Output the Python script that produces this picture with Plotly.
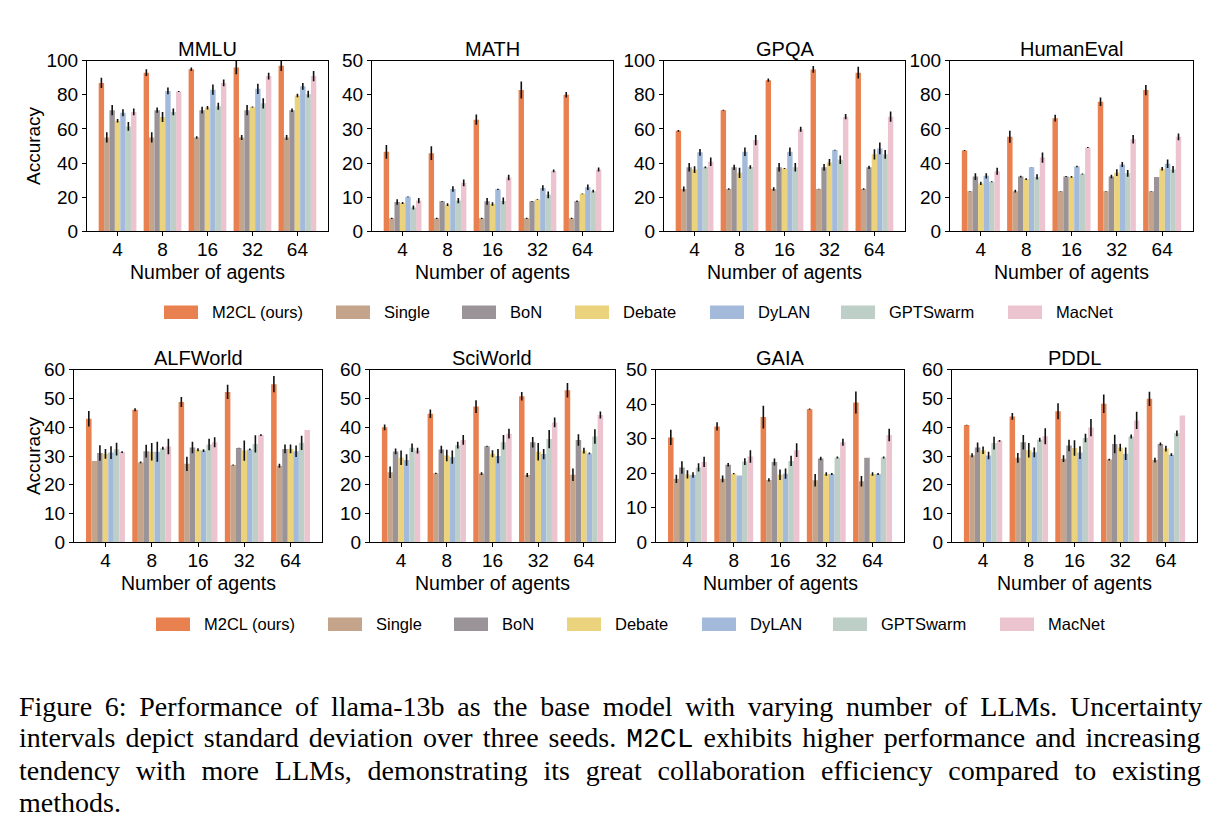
import plotly.graph_objects as go

AGENTS = ["4", "8", "16", "32", "64"]
METHODS = ["M2CL (ours)", "Single", "BoN", "Debate", "DyLAN", "GPTSwarm", "MacNet"]
COLORS = ["#E9804F", "#C4A48A", "#9A9499", "#EBD27C", "#A3BADB", "#BDCFC6", "#EBC4CF"]
BENCHMARKS = ["MMLU", "MATH", "GPQA", "HumanEval", "ALFWorld", "SciWorld", "GAIA", "PDDL"]
Y_MAX = [100, 50, 100, 100, 60, 60, 50, 60]
Y_DTICK = [20, 10, 20, 20, 10, 10, 10, 10]

# rows = methods (in METHODS order), columns = number of agents
MMLU_MEAN = [[87, 93, 95, 96, 97], [55, 55, 55, 55, 55], [71, 71, 71, 71, 71],
             [64.8, 67, 72.4, 72.8, 79.6], [69.5, 82.3, 83, 83.5, 85],
             [61.5, 70, 73.3, 75, 80.4], [70, 82, 87, 91, 91]]
MMLU_STD = [[3, 2, 1, 4, 3], [3, 3, 0.7, 1.5, 1.5], [3, 1.5, 2, 3, 1],
            [1, 3, 1, 0.3, 1], [2, 2, 3, 3, 2], [2.5, 2, 2, 3, 2], [2, 0.3, 2, 2, 3]]

MATH_MEAN = [[23.3, 22.9, 32.7, 41.4, 40], [3.8, 3.8, 3.8, 3.8, 3.8],
             [8.6, 8.8, 8.8, 8.8, 8.8], [8.3, 7.8, 8, 9.3, 11],
             [10.1, 12.4, 12.3, 12.7, 12.9], [7, 9, 8.9, 10.7, 11.8],
             [9, 14.2, 15.8, 17.7, 18.1]]
MATH_STD = [[2, 2, 1.5, 2.5, 0.8], [0.2, 0.2, 0.2, 0.2, 0.2], [0.8, 0.1, 1, 0.1, 0.2],
            [0.3, 0.4, 0.5, 0.1, 0.1], [0.1, 0.8, 0.2, 0.8, 0.8],
            [0.6, 0.8, 1, 1, 0.4], [0.8, 1, 0.8, 0.4, 0.6]]

GPQA_MEAN = [[58.9, 70.9, 88.6, 94.9, 93], [24.8, 24.8, 24.8, 24.8, 24.8],
             [37.5, 37.5, 37.5, 37.5, 37.5], [36.2, 34.3, 36.8, 40.4, 45.1],
             [46.3, 46.7, 46.7, 47.6, 48.6], [37.5, 37.7, 37.5, 41.9, 45.1],
             [40.8, 53.5, 59.8, 67.2, 67.2]]
GPQA_STD = [[0.5, 0.3, 1, 2, 3.5], [1.5, 0.5, 1, 0.2, 0.5], [2.5, 1.5, 2.5, 2, 1],
            [2, 3, 0.3, 2, 3], [2, 2.5, 2.5, 0.2, 3.5], [0.5, 1, 2.5, 2.5, 2.5],
            [2.5, 3, 1.5, 1.5, 3]]

HUMANEVAL_MEAN = [[47.4, 55.4, 66.3, 75.9, 82.8], [23.5, 23.5, 23.5, 23.5, 23.5],
                  [32.1, 32.1, 32.1, 32.1, 31.9], [28.1, 30.6, 31.9, 34.4, 36.7],
                  [32.5, 37.5, 38, 39.2, 39.6], [29, 31.9, 33.6, 34, 36.3],
                  [35.2, 43.2, 49.1, 53.9, 55.4]]
HUMANEVAL_STD = [[0.3, 3.5, 2, 2.5, 3], [0.1, 0.8, 0.1, 0.1, 0.2], [2, 0.5, 0.3, 1, 0],
                 [1, 0.5, 0.5, 2, 1], [1.5, 0.1, 0.5, 1.5, 2.5], [0.3, 1.5, 0.3, 2, 2],
                 [2, 3, 0.3, 2.5, 2]]

ALFWORLD_MEAN = [[43, 46.1, 48.8, 52.3, 55], [28.3, 27.8, 27.3, 26.9, 26.6],
                 [31.1, 31.7, 33, 32.8, 32.5], [30.8, 31.5, 32.2, 31.9, 32.5],
                 [31.2, 31.5, 31.9, 32.3, 31.7], [32.4, 32.7, 34, 34.2, 34.6],
                 [31.4, 33.3, 34.8, 37.3, 39.1]]
ALFWORLD_STD = [[2.7, 0.5, 1.7, 2.5, 2.8], [0, 0.3, 2.5, 0.2, 0.7], [2.7, 2.2, 2, 0.1, 1.5],
                [1.7, 3, 0.5, 3.5, 1.5], [2.2, 3.5, 0.5, 0.3, 2], [2.2, 0.5, 2, 3, 2.5],
                [0.3, 2.7, 1.7, 0.3, 0]]

SCIWORLD_MEAN = [[40, 44.7, 47.2, 50.8, 52.9], [24.4, 24, 23.9, 23.4, 23.5],
                 [31.6, 32.3, 33.4, 34.8, 35.6], [29.4, 30.2, 30.8, 31.5, 31.9],
                 [28.6, 29.6, 30, 30.7, 30.9], [32.9, 33.8, 34.8, 35.9, 36.8],
                 [31.9, 35.6, 37.8, 41.7, 44.3]]
SCIWORLD_STD = [[1, 1.5, 2.2, 1.5, 2.5], [2, 0.2, 0.5, 0.7, 2.2], [1, 1.3, 0.2, 1.8, 2],
                [2.5, 2, 1.2, 3, 1], [2, 2.3, 2.5, 1.8, 0.3], [1.5, 1.2, 2.5, 3.2, 2.5],
                [1, 1.7, 1.7, 1.7, 1.2]]

GAIA_MEAN = [[30.4, 33.6, 36.3, 38.6, 40.5], [18.4, 18.4, 18.1, 18, 17.7],
             [21.7, 22.5, 23.3, 24.3, 24.5], [19.7, 19.9, 19.6, 19.8, 19.8],
             [19.5, 19.4, 19.9, 19.8, 19.8], [21.7, 23.4, 23.6, 24.6, 24.6],
             [23.3, 24.9, 26.7, 29, 31.1]]
GAIA_STD = [[2.2, 1.2, 3.3, 0.2, 3.2], [1.2, 1, 0.5, 1.8, 1.5], [1.8, 0.5, 1, 0.5, 0],
            [1.2, 0.2, 1.5, 0.5, 0.5], [0.8, 0, 1.5, 0.3, 0.3], [1.2, 1, 1.5, 0.3, 0.3],
            [1.5, 1.8, 2, 1, 1.8]]

PDDL_MEAN = [[40.8, 43.8, 45.6, 48.2, 49.9], [30.3, 29.4, 29.1, 28.8, 28.6],
             [33, 34.8, 33.7, 34.2, 34.2], [32, 32, 32.8, 33, 32.6],
             [30.2, 31.3, 31.2, 30.8, 30.5], [34.5, 35.7, 36.3, 36.8, 37.9],
             [35.3, 36.9, 39.9, 42.4, 44.1]]
PDDL_STD = [[0.1, 1.2, 2.8, 3.2, 2.5], [0.7, 1.7, 1.2, 0.3, 0.8], [1.7, 2.5, 2, 3.2, 0.5],
            [1.3, 2.5, 2.7, 1.3, 1], [1.3, 1.7, 2.2, 2.2, 0.5], [2.2, 0.7, 1.5, 0.7, 1],
            [0.3, 2.8, 3, 3, 0]]

MEANS = [MMLU_MEAN, MATH_MEAN, GPQA_MEAN, HUMANEVAL_MEAN,
         ALFWORLD_MEAN, SCIWORLD_MEAN, GAIA_MEAN, PDDL_MEAN]
STDS = [MMLU_STD, MATH_STD, GPQA_STD, HUMANEVAL_STD,
        ALFWORLD_STD, SCIWORLD_STD, GAIA_STD, PDDL_STD]

CAPTION = [
    "Figure 6: Performance of llama-13b as the base model with varying number of LLMs. Uncertainty",
    "intervals depict standard deviation over three seeds. <span style='font-family:Liberation Mono'>M2CL</span> exhibits higher performance and increasing",
    "tendency with more LLMs, demonstrating its great collaboration efficiency compared to existing",
    "methods.",
]
CAPTION_WORD_SPACING = [5.7, 3, 8.8, 0]

W, H = 1220, 840
# pixel boxes of the plot areas (left, right, top, bottom)
BOXES = [(87, 328, 52, 227), (372, 613, 52, 227), (664, 905, 52, 227), (950, 1193, 52, 227),
         (74, 322, 369, 546), (370, 615, 369, 546), (656, 904, 369, 546), (952, 1197, 369, 546)]

FONT = "Liberation Sans"
fig = go.Figure()
annotations = []
shapes = []

for i, (name, means, stds) in enumerate(zip(BENCHMARKS, MEANS, STDS)):
    k = i + 1
    xa = "x" if k == 1 else f"x{k}"
    ya = "y" if k == 1 else f"y{k}"
    for m, method in enumerate(METHODS):
        fig.add_trace(go.Bar(
            x=AGENTS, y=means[m], name=method, marker_color=COLORS[m],
            marker_line_width=0, showlegend=False,
            error_y=dict(type="data", array=stds[m], color="#111111", thickness=1.6, width=0),
            xaxis=xa, yaxis=ya, offsetgroup=str(m),
        ))
    l, r, t, b = BOXES[i]
    axis_common = dict(showline=True, linecolor="black", linewidth=1, mirror=True,
                       ticks="outside", ticklen=4, tickcolor="black", showgrid=False,
                       zeroline=False, tickfont=dict(family=FONT, size=19, color="black"))
    fig.layout[f"xaxis{'' if k == 1 else k}"] = dict(
        domain=[l / W, r / W], anchor=ya, type="category",
        range=[-0.68, 4.68], ticklabelstandoff=-3, **axis_common)
    fig.layout[f"yaxis{'' if k == 1 else k}"] = dict(
        domain=[1 - b / H, 1 - t / H], anchor=xa, range=[0, Y_MAX[i]],
        dtick=Y_DTICK[i], **axis_common)
    cx = (l + r) / 2
    annotations.append(dict(text=name, x=cx / W, y=1 - (t - 12) / H, xref="paper", yref="paper",
                            showarrow=False, font=dict(family=FONT, size=20, color="black"),
                            xanchor="center", yanchor="middle"))
    annotations.append(dict(text="Number of agents", x=cx / W, y=1 - (b + 42) / H,
                            xref="paper", yref="paper", showarrow=False,
                            font=dict(family=FONT, size=19.5, color="black"),
                            xanchor="center", yanchor="middle"))
    if i % 4 == 0:
        annotations.append(dict(text="Accuracy", x=(l - 54 + (0 if i == 0 else 13)) / W,
                                y=1 - ((t + b) / 2) / H,
                                xref="paper", yref="paper", showarrow=False, textangle=-90,
                                font=dict(family=FONT, size=19, color="black"),
                                xanchor="center", yanchor="middle"))

# legends (two rows)
LEG_X = [164, 336, 462, 575, 710, 841, 1008]
for ly, dx in [(310, 0), (630, -8)]:
    for m, method in enumerate(METHODS):
        x0 = LEG_X[m] + dx
        shapes.append(dict(type="rect", xref="paper", yref="paper",
                           x0=x0 / W, x1=(x0 + 34) / W, y0=1 - (ly + 7) / H, y1=1 - (ly - 7) / H,
                           fillcolor=COLORS[m], line=dict(width=0)))
        annotations.append(dict(text=method, x=(x0 + 46) / W, y=1 - ly / H, xref="paper",
                                yref="paper", showarrow=False, xanchor="left", yanchor="middle",
                                font=dict(family=FONT, size=16.5, color="black")))

for j, line in enumerate(CAPTION):
    txt = f"<span style='word-spacing:{CAPTION_WORD_SPACING[j]}px'>{line}</span>"
    annotations.append(dict(text=txt, x=17 / W, y=1 - (714 + 33 * j) / H, xref="paper",
                            yref="paper", showarrow=False, xanchor="left", yanchor="middle",
                            font=dict(family="Liberation Serif", size=28, color="black")))

fig.update_layout(
    width=W, height=H, margin=dict(l=0, r=0, t=0, b=0),
    paper_bgcolor="white", plot_bgcolor="white",
    barmode="group", bargap=0.16, bargroupgap=0,
    annotations=annotations, shapes=shapes,
)
fig.write_html("out.html")
